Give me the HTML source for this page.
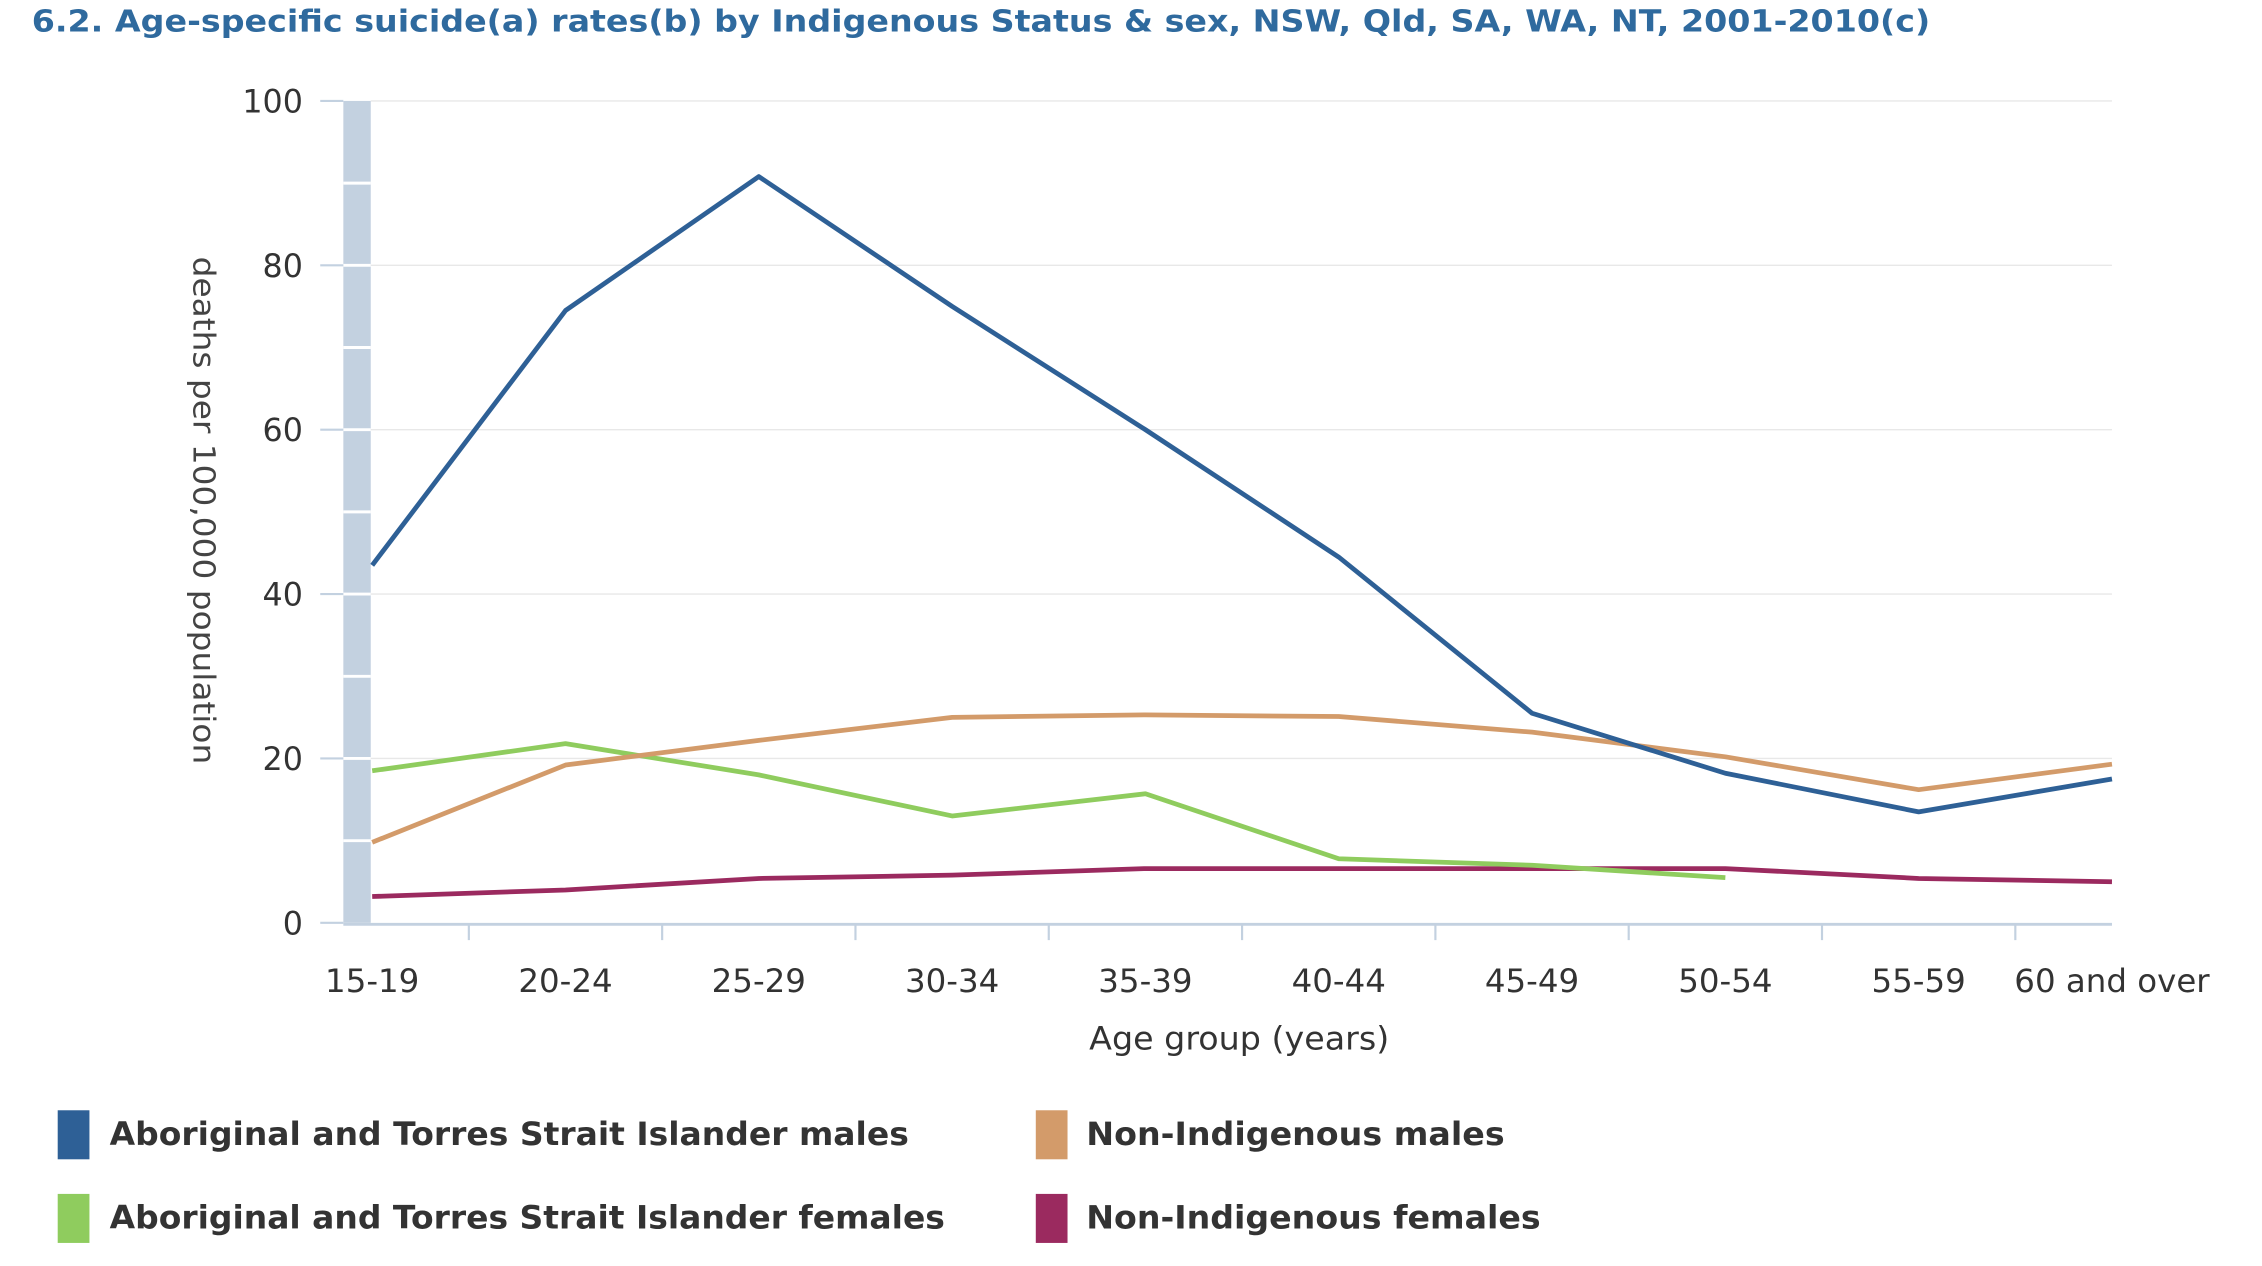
<!DOCTYPE html>
<html><head><meta charset="utf-8"><style>
html,body{margin:0;padding:0;background:#fff}
svg{display:block}
text{font-family:"DejaVu Sans","Liberation Sans",sans-serif}
</style></head><body>
<svg id="chart" width="2262" height="1266" viewBox="0 0 1568 878" preserveAspectRatio="none" xmlns="http://www.w3.org/2000/svg">
<text x="22" y="22" font-size="21" font-weight="bold" fill="#2f6a9e" textLength="1316" lengthAdjust="spacingAndGlyphs">6.2. Age-specific suicide(a) rates(b) by Indigenous Status &amp; sex, NSW, Qld, SA, WA, NT, 2001-2010(c)</text>
<g id="grid"></g>
<g id="axes"></g>
<g id="series"></g>
<text transform="translate(134,354) rotate(90)" text-anchor="middle" font-size="21" fill="#444" textLength="352" lengthAdjust="spacingAndGlyphs">deaths per 100,000 population</text>
<text x="859" y="728" text-anchor="middle" font-size="22" fill="#333" textLength="208" lengthAdjust="spacingAndGlyphs">Age group (years)</text>
<g font-size="22" font-weight="bold" fill="#333">
<g><rect x="40" y="770" width="22" height="34" fill="#2e6096"/><text x="76" y="794" textLength="554" lengthAdjust="spacingAndGlyphs">Aboriginal and Torres Strait Islander males</text></g>
<g><rect x="718" y="770" width="22" height="34" fill="#d39b6a"/><text x="753" y="794" textLength="290" lengthAdjust="spacingAndGlyphs">Non-Indigenous males</text></g>
<g><rect x="40" y="828" width="22" height="34" fill="#8fcc5e"/><text x="76" y="852" textLength="579" lengthAdjust="spacingAndGlyphs">Aboriginal and Torres Strait Islander females</text></g>
<g><rect x="718" y="828" width="22" height="34" fill="#9b2a5f"/><text x="753" y="852" textLength="315" lengthAdjust="spacingAndGlyphs">Non-Indigenous females</text></g>
</g>
</svg>
<script>
const categories=["15-19","20-24","25-29","30-34","35-39","40-44","45-49","50-54","55-59","60 and over"];
const atsiMales=[43.5,74.5,90.8,75,60,44.5,25.5,18.2,13.5,17.5];
const nonIndMales=[9.8,19.2,22.2,25,25.3,25.1,23.2,20.2,16.2,19.3];
const atsiFemales=[18.5,21.8,18,13,15.7,7.8,7,5.5];
const nonIndFemales=[3.2,4,5.4,5.8,6.6,6.6,6.6,6.6,5.4,5];
const yTicks=[0,20,40,60,80,100];
const NS="http://www.w3.org/2000/svg";
function X(i){return 258+i*134;}
function Y(v){return 640-v*5.7;}
function mk(tag,attrs,parent){const e=document.createElementNS(NS,tag);for(const k in attrs)e.setAttribute(k,attrs[k]);parent.appendChild(e);return e;}
const grid=document.getElementById('grid'),axes=document.getElementById('axes'),ser=document.getElementById('series');
let band=mk('rect',{x:238,y:Y(100),width:19,height:Y(0)-Y(100),fill:'#c3d1e0'},axes);


for(let v=10;v<100;v+=10){let g=mk('line',{x1:238,x2:257,y1:Y(v),y2:Y(v),stroke:'#fff','stroke-width':2},axes);

}
yTicks.forEach(v=>{
 if(v>0){let gl=mk('line',{x1:257,x2:1464,y1:Y(v),y2:Y(v),stroke:'#e8e8e8','stroke-width':1},grid);
 
 }
 let tk=mk('line',{x1:222,x2:238,y1:Y(v),y2:Y(v),stroke:'#c3d1e0','stroke-width':1.5},axes);
 
 
 let t=mk('text',{x:210,y:Y(v)+8,'text-anchor':'end','font-size':22,fill:'#333'},axes);t.textContent=v;
 
 
});
let xa=mk('line',{x1:238,x2:1464,y1:641,y2:641,stroke:'#c3d1e0','stroke-width':2},axes);


categories.forEach((c,i)=>{
 if(i<categories.length-1){let tk=mk('line',{x1:X(i)+67,x2:X(i)+67,y1:641,y2:652,stroke:'#c3d1e0','stroke-width':1.5},axes);
 
 }
 let t=mk('text',{x:X(i),y:688,'text-anchor':'middle','font-size':22.5,fill:'#333'},axes);t.textContent=c;
 
 
});
function line(data,color,name){
 const p=mk('polyline',{points:data.map((v,i)=>X(i)+','+Y(v)).join(' '),fill:'none',stroke:color,'stroke-width':3.3,'stroke-linejoin':'round'},ser);
 
 
}
line(nonIndFemales,'#9b2a5f','non-indigenous-females-line');
line(atsiFemales,'#8fcc5e','atsi-females-line');
line(nonIndMales,'#d39b6a','non-indigenous-males-line');
line(atsiMales,'#2e6096','atsi-males-line');
</script>
</body></html>
